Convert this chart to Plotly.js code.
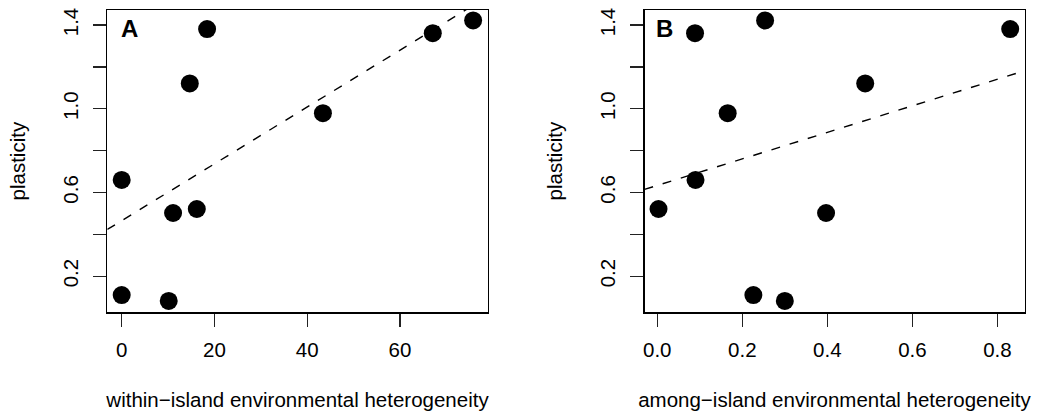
<!DOCTYPE html>
<html>
<head>
<meta charset="utf-8">
<script src="https://cdn.plot.ly/plotly-3.0.1.min.js"></script>
<style>html,body{margin:0;padding:0;background:#fff;}#chart{width:1043px;height:418px;}</style>
</head>
<body>
<div id="chart"></div>
<script>
// Data (same island order in both panels)
const plasticity = [0.110, 0.660, 0.082, 0.502, 0.521, 1.121, 1.381, 0.979, 1.361, 1.422];
const withinHet  = [0, 0, 10.14, 11.08, 16.19, 14.68, 18.41, 43.38, 67.06, 75.76];
const amongHet   = [0.226, 0.090, 0.300, 0.397, 0.003, 0.489, 0.830, 0.1656, 0.0888, 0.2536];
const xTicksA = [0, 20, 40, 60];
const xTicksB = [0.0, 0.2, 0.4, 0.6, 0.8];
const yTickVals = [0.2, 0.4, 0.6, 0.8, 1.0, 1.2, 1.4];
const yTickText = ['0.2', '', '0.6', '', '1.0', '', '1.4'];
const panelLabels = ['A', 'B'];
const xTitles = ['within\u2212island environmental heterogeneity', 'among\u2212island environmental heterogeneity'];
const yTitle = 'plasticity';

function lmFit(x, y) {
  const n = x.length;
  const mx = x.reduce((a, b) => a + b, 0) / n;
  const my = y.reduce((a, b) => a + b, 0) / n;
  let sxy = 0, sxx = 0;
  for (let i = 0; i < n; i++) { sxy += (x[i] - mx) * (y[i] - my); sxx += (x[i] - mx) ** 2; }
  const b = sxy / sxx;
  return { a: my - b * mx, b: b };
}

const fitA = lmFit(withinHet, plasticity);
const fitB = lmFit(amongHet, plasticity);
const rangeA = [-3.1, 78.9];
const rangeB = [-0.030, 0.8636];
const yRange = [0.0275, 1.472];

const font = { family: 'Liberation Sans, Arial, Helvetica, sans-serif', color: '#000' };
const fs = 20.5;
const mk = { color: '#000', size: 18 };
const dashLine = { color: '#000', width: 1.4, dash: '9px,10px' };

const traces = [
  { x: withinHet, y: plasticity, mode: 'markers', marker: mk, xaxis: 'x', yaxis: 'y', cliponaxis: false },
  { x: rangeA, y: rangeA.map(v => fitA.a + fitA.b * v), mode: 'lines', line: dashLine, xaxis: 'x', yaxis: 'y' },
  { x: amongHet, y: plasticity, mode: 'markers', marker: mk, xaxis: 'x2', yaxis: 'y2', cliponaxis: false },
  { x: rangeB, y: rangeB.map(v => fitB.a + fitB.b * v), mode: 'lines', line: dashLine, xaxis: 'x2', yaxis: 'y2' }
];

function xAxis(domain, range, ticks, fmt, title, anchor) {
  return {
    domain: domain, range: range, anchor: anchor, tickmode: 'array', tickvals: ticks,
    ticktext: ticks.map(v => fmt(v)),
    showline: true, mirror: true, linecolor: '#000', linewidth: 1.3,
    ticks: 'outside', ticklen: 13, tickwidth: 1.3, tickcolor: '#222',
    showgrid: false, zeroline: false,
    tickfont: { ...font, size: fs },
    ticklabelstandoff: 6,
    title: { text: title, font: { ...font, size: fs }, standoff: 32 }
  };
}
function yAxis(anchor) {
  return {
    domain: [0.2529, 0.9761], range: yRange, anchor: anchor,
    tickmode: 'array', tickvals: yTickVals, ticktext: yTickText,
    tickangle: -90,
    showline: true, mirror: true, linecolor: '#000', linewidth: 1.3,
    ticks: 'outside', ticklen: 13, tickwidth: 1.3, tickcolor: '#222',
    showgrid: false, zeroline: false,
    tickfont: { ...font, size: fs },
    ticklabelstandoff: 7,
    title: { text: yTitle, font: { ...font, size: fs }, standoff: 27 }
  };
}

const layout = {
  width: 1043, height: 418,
  margin: { l: 0, r: 0, t: 0, b: 0 },
  paper_bgcolor: '#fff', plot_bgcolor: '#fff',
  showlegend: false,
  font: font,
  xaxis: xAxis([107.3 / 1043, 487.7 / 1043], rangeA, xTicksA, v => String(v), xTitles[0], 'y'),
  yaxis: yAxis('x'),
  xaxis2: xAxis([644.5 / 1043, 1024.5 / 1043], rangeB, xTicksB, v => v.toFixed(1), xTitles[1], 'y2'),
  yaxis2: yAxis('x2'),
  annotations: [
    { text: '<b>' + panelLabels[0] + '</b>', xref: 'paper', yref: 'paper', x: 129 / 1043, y: 1 - 29 / 418,
      xanchor: 'center', yanchor: 'middle', showarrow: false, font: { ...font, size: 24 } },
    { text: '<b>' + panelLabels[1] + '</b>', xref: 'paper', yref: 'paper', x: 664 / 1043, y: 1 - 29 / 418,
      xanchor: 'center', yanchor: 'middle', showarrow: false, font: { ...font, size: 24 } }
  ]
};

Plotly.newPlot('chart', traces, layout, { staticPlot: true, displayModeBar: false });
</script>
</body>
</html>
